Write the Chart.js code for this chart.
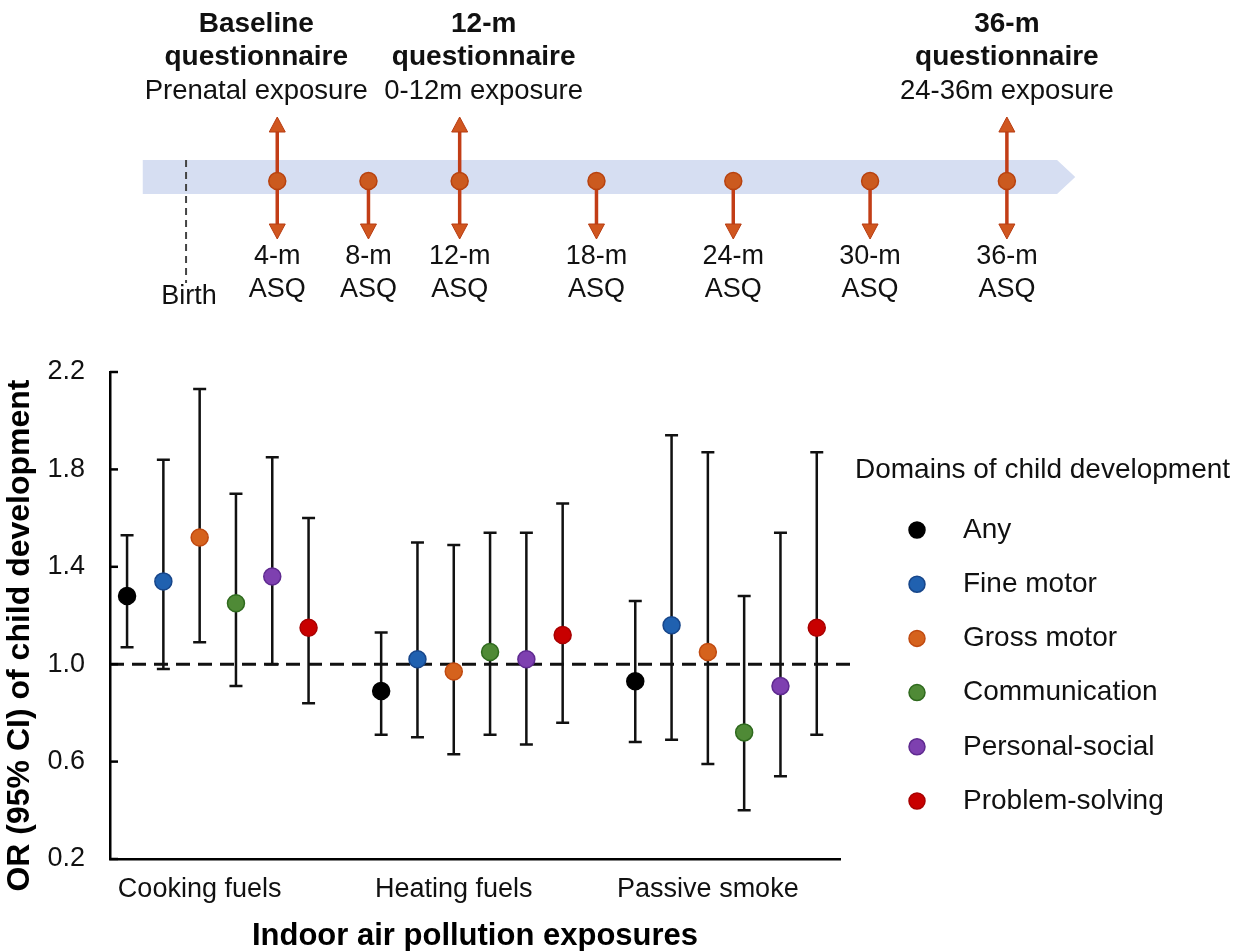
<!DOCTYPE html>
<html>
<head>
<meta charset="utf-8">
<title>Indoor air pollution and child development</title>
<script src="https://cdn.jsdelivr.net/npm/chart.js@4.4.1/dist/chart.umd.min.js"></script>
<style>
  html, body { margin: 0; padding: 0; background: #fff; }
  #wrap { position: relative; width: 1239px; height: 951px; }
  canvas { position: absolute; left: 0; }
  #timeline { top: 0; }
  #orChart { top: 330px; }
</style>
</head>
<body>
<div id="wrap">
  <canvas id="timeline" width="1239" height="330"></canvas>
  <canvas id="orChart" width="1239" height="621"></canvas>
</div>
<script>
var FONT = '"Liberation Sans", Arial, Helvetica, sans-serif';

// timeline, months since birth
var asqMonths = [4, 8, 12, 18, 24, 30, 36];
var asqLabels = ['4-m', '8-m', '12-m', '18-m', '24-m', '30-m', '36-m'];
var questMonths = [4, 12, 36];
var questNames = ['Baseline', '12-m', '36-m'];
var questExposure = ['Prenatal exposure', '0-12m exposure', '24-36m exposure'];

// OR (95% CI) by exposure
var groups = ['Cooking fuels', 'Heating fuels', 'Passive smoke'];
var domains = ['Any', 'Fine motor', 'Gross motor', 'Communication', 'Personal-social', 'Problem-solving'];
var domainColors = ['#000000', '#2061b0', '#d5621d', '#4f8a36', '#7e40b0', '#c80000'];
var domainBorders = ['#000000', '#17468a', '#c04a10', '#2f6a1e', '#5f2a90', '#a80000'];
var yTicks = [0.2, 0.6, 1.0, 1.4, 1.8, 2.2];

var cookingOR   = [1.28, 1.34, 1.52, 1.25, 1.36, 1.15];
var cookingLow  = [1.07, 0.98, 1.09, 0.91, 1.00, 0.84];
var cookingHigh = [1.53, 1.84, 2.13, 1.70, 1.85, 1.60];

var heatingOR   = [0.89, 1.02, 0.97, 1.05, 1.02, 1.12];
var heatingLow  = [0.71, 0.70, 0.63, 0.71, 0.67, 0.76];
var heatingHigh = [1.13, 1.50, 1.49, 1.54, 1.54, 1.66];

var smokeOR   = [0.93, 1.16, 1.05, 0.72, 0.91, 1.15];
var smokeLow  = [0.68, 0.69, 0.59, 0.40, 0.54, 0.71];
var smokeHigh = [1.26, 1.94, 1.87, 1.28, 1.54, 1.87];

var orByGroup = [cookingOR, heatingOR, smokeOR];
var lowByGroup = [cookingLow, heatingLow, smokeLow];
var highByGroup = [cookingHigh, heatingHigh, smokeHigh];

// questionnaire captions are not centred on their arrow in the figure
var questShift = [-21, 24, 0];


function drawArrow(ctx, x, from, tip) {
  var dir = tip < from ? -1 : 1;
  var base = tip - dir * 15;
  ctx.strokeStyle = '#c23d16';
  ctx.lineWidth = 3.5;
  ctx.beginPath();
  ctx.moveTo(x, from);
  ctx.lineTo(x, base);
  ctx.stroke();
  ctx.fillStyle = '#d0561f';
  ctx.strokeStyle = '#b73c12';
  ctx.lineWidth = 1;
  ctx.beginPath();
  ctx.moveTo(x, tip);
  ctx.lineTo(x - 8, base);
  ctx.lineTo(x + 8, base);
  ctx.closePath();
  ctx.fill();
  ctx.stroke();
}

var timelineDecor = {
  id: 'timelineDecor',
  beforeDatasetsDraw: function(chart) {
    var ctx = chart.ctx, x = chart.scales.x, y = chart.scales.y;
    var y0 = y.getPixelForValue(0);
    var bx0 = x.getPixelForValue(-1.9), bx1 = x.getPixelForValue(38.2), tip = x.getPixelForValue(39);
    ctx.save();
    // band
    ctx.fillStyle = '#d6def2';
    ctx.beginPath();
    ctx.moveTo(bx0, y0 - 21);
    ctx.lineTo(bx1, y0 - 21);
    ctx.lineTo(tip, y0 - 4);
    ctx.lineTo(bx1, y0 + 13);
    ctx.lineTo(bx0, y0 + 13);
    ctx.closePath();
    ctx.fill();
    // birth
    var birthX = x.getPixelForValue(0);
    ctx.strokeStyle = '#444';
    ctx.lineWidth = 2;
    ctx.setLineDash([7, 5]);
    ctx.beginPath();
    ctx.moveTo(birthX, y0 - 21);
    ctx.lineTo(birthX, y0 + 102);
    ctx.stroke();
    ctx.setLineDash([]);
    // arrows
    asqMonths.forEach(function(m) {
      drawArrow(ctx, x.getPixelForValue(m), y0, y0 + 58);
    });
    questMonths.forEach(function(m) {
      drawArrow(ctx, x.getPixelForValue(m), y0, y0 - 64);
    });
    ctx.restore();
  },
  afterDraw: function(chart) {
    var ctx = chart.ctx, x = chart.scales.x;
    ctx.save();
    ctx.fillStyle = '#111';
    ctx.textAlign = 'center';
    ctx.textBaseline = 'middle';
    questMonths.forEach(function(m, i) {
      var px = x.getPixelForValue(m) + questShift[i];
      ctx.font = 'bold 28px ' + FONT;
      ctx.fillText(questNames[i], px, 24);
      ctx.fillText('questionnaire', px, 57);
      ctx.font = '27.5px ' + FONT;
      ctx.fillText(questExposure[i], px, 91);
    });
    ctx.font = '27px ' + FONT;
    asqMonths.forEach(function(m, i) {
      var px = x.getPixelForValue(m);
      ctx.fillText(asqLabels[i], px, 257);
      ctx.fillText('ASQ', px, 290);
    });
    ctx.font = '27px ' + FONT;
    ctx.fillText('Birth', x.getPixelForValue(0) + 3, 297);
    ctx.restore();
  }
};

new Chart(document.getElementById('timeline'), {
  type: 'scatter',
  data: {
    datasets: [{
      data: asqMonths.map(function(m) { return { x: m, y: 0 }; }),
      pointRadius: 8.5,
      backgroundColor: '#cb5a1f',
      borderColor: '#b8420f',
      borderWidth: 1.5
    }]
  },
  options: {
    responsive: false,
    animation: false,
    events: [],
    layout: { autoPadding: false, padding: { top: 170, bottom: 138, left: 0, right: 0 } },
    plugins: { legend: { display: false }, tooltip: { enabled: false } },
    scales: {
      x: { type: 'linear', display: false, min: -8.16, max: 46.18 },
      y: { type: 'linear', display: false, min: -1, max: 1 }
    }
  },
  plugins: [timelineDecor]
});


var orDecor = {
  id: 'orDecor',
  beforeDatasetsDraw: function(chart) {
    var ctx = chart.ctx, area = chart.chartArea, x = chart.scales.x, y = chart.scales.y;
    ctx.save();
    // null line
    var y1 = y.getPixelForValue(1);
    ctx.strokeStyle = '#111';
    ctx.lineWidth = 3;
    ctx.setLineDash([14, 8]);
    ctx.beginPath();
    ctx.moveTo(area.left, y1);
    ctx.lineTo(area.right + 12, y1);
    ctx.stroke();
    ctx.setLineDash([]);
    // error bars
    ctx.strokeStyle = '#111';
    ctx.lineWidth = 2.5;
    chart.data.datasets.forEach(function(ds) {
      ds.data.forEach(function(p) {
        var px = x.getPixelForValue(p.x);
        var top = y.getPixelForValue(p.hi), bot = y.getPixelForValue(p.lo);
        ctx.beginPath();
        ctx.moveTo(px, top); ctx.lineTo(px, bot);
        ctx.moveTo(px - 6.5, top); ctx.lineTo(px + 6.5, top);
        ctx.moveTo(px - 6.5, bot); ctx.lineTo(px + 6.5, bot);
        ctx.stroke();
      });
    });
    ctx.restore();
  },
  afterDraw: function(chart) {
    var ctx = chart.ctx, area = chart.chartArea, y = chart.scales.y;
    ctx.save();
    // inward ticks on the y axis
    ctx.strokeStyle = '#000';
    ctx.lineWidth = 2.5;
    yTicks.forEach(function(v) {
      var py = y.getPixelForValue(v);
      ctx.beginPath();
      ctx.moveTo(area.left, py);
      ctx.lineTo(area.left + 8, py);
      ctx.stroke();
    });
    // y title
    ctx.fillStyle = '#000';
    ctx.font = 'bold 32px ' + FONT;
    ctx.textAlign = 'center';
    ctx.textBaseline = 'middle';
    ctx.translate(20, (area.top + area.bottom) / 2 + 20);
    ctx.rotate(-Math.PI / 2);
    ctx.fillText('OR (95% CI) of child development', 0, 0);
    ctx.restore();

    // legend
    ctx.save();
    ctx.fillStyle = '#111';
    ctx.textBaseline = 'middle';
    ctx.textAlign = 'left';
    ctx.font = '28px ' + FONT;
    ctx.fillText('Domains of child development', 855, 140);
    domains.forEach(function(name, d) {
      var ry = 200 + d * 54.2;
      ctx.beginPath();
      ctx.arc(917, ry, 8, 0, Math.PI * 2);
      ctx.fillStyle = domainColors[d];
      ctx.fill();
      ctx.strokeStyle = domainBorders[d];
      ctx.lineWidth = 1.5;
      ctx.stroke();
      ctx.fillStyle = '#111';
      ctx.fillText(name, 963, ry);
    });
    ctx.restore();
  }
};

var datasets = domains.map(function(name, d) {
  return {
    label: name,
    data: groups.map(function(g, gi) {
      return { x: gi * 7 + d, y: orByGroup[gi][d], lo: lowByGroup[gi][d], hi: highByGroup[gi][d] };
    }),
    backgroundColor: domainColors[d],
    borderColor: domainBorders[d],
    borderWidth: 1.5,
    pointRadius: 8.5
  };
});

new Chart(document.getElementById('orChart'), {
  type: 'scatter',
  data: { datasets: datasets },
  options: {
    responsive: false,
    animation: false,
    events: [],
    layout: { autoPadding: false, padding: { top: 42, right: 399, bottom: 0, left: 0 } },
    plugins: { legend: { display: false }, tooltip: { enabled: false } },
    scales: {
      x: {
        type: 'linear',
        min: -0.47,
        max: 19.64,
        grid: { display: false, drawTicks: false },
        border: { display: true, color: '#000', width: 2.5 },
        afterFit: function(s) { s.height = 92; },
        afterBuildTicks: function(s) {
          s.ticks = groups.map(function(g, i) { return { value: i * 7 + 2 }; });
        },
        ticks: {
          autoSkip: false,
          maxRotation: 0,
          padding: 14,
          color: '#111',
          font: { family: FONT, size: 27 },
          callback: function(v) { return groups[Math.round((v - 2) / 7)]; }
        },
        title: {
          display: true,
          text: 'Indoor air pollution exposures',
          color: '#000',
          font: { family: FONT, size: 31, weight: 'bold' },
          padding: { top: 0, bottom: -4 }
        }
      },
      y: {
        type: 'linear',
        min: 0.2,
        max: 2.2,
        grid: { display: false, drawTicks: false },
        border: { display: true, color: '#000', width: 2.5 },
        afterFit: function(s) { s.width = 110; },
        afterBuildTicks: function(s) {
          s.ticks = yTicks.map(function(v) { return { value: v }; });
        },
        ticks: {
          padding: 25,
          color: '#111',
          font: { family: FONT, size: 27 },
          callback: function(v) { return v.toFixed(1); }
        }
      }
    }
  },
  plugins: [orDecor]
});
</script>
</body>
</html>
